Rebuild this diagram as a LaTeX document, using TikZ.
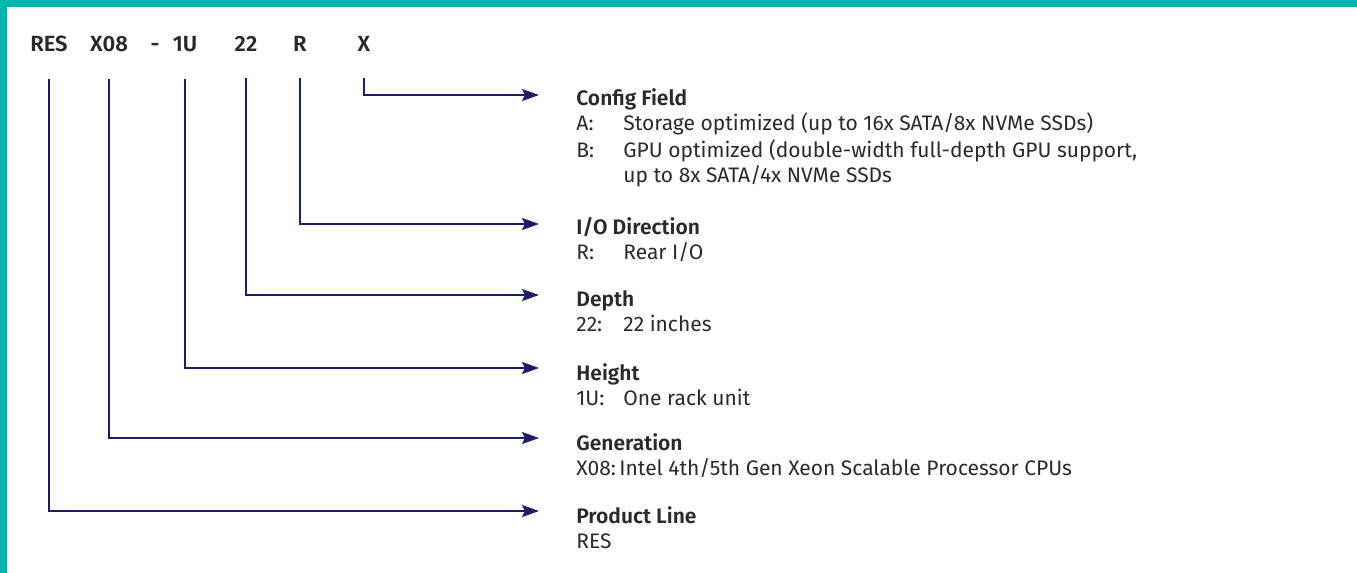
\documentclass[tikz,border=0pt]{standalone}
\usepackage{fontspec}
\setmainfont{Fira Sans}[BoldFont={Fira Sans SemiBold}]
\usetikzlibrary{arrows.meta,positioning}

\definecolor{frameteal}{HTML}{00B7AF}
\definecolor{linknavy}{HTML}{1B1C6B}
\definecolor{inkgray}{HTML}{2A2A2A}

\begin{document}
\begin{tikzpicture}[x=0.5pt, y=-0.5pt, text=inkgray,
  font=\fontsize{10.5}{12.5}\selectfont,
  code/.style = {anchor=base, inner xsep=0pt, inner ysep=13pt, font=\fontsize{11}{13}\selectfont\bfseries},
  head/.style = {anchor=base west, inner sep=0pt, font=\fontsize{10.5}{12}\selectfont\bfseries},
  body/.style = {anchor=base west, inner sep=0pt, align=left},
  link/.style = {draw=linknavy, line width=1pt, -{Stealth[length=8.5pt,width=6pt,inset=1.5pt]}}]
\useasboundingbox (0,0) rectangle (1357,573);

% frame
\fill[frameteal] (0,0) rectangle (1357,7);
\fill[frameteal] (0,0) rectangle (7,573);

% model code
\node[code] (res) at (49,52) {RES};
\node[code] (gen) at (109,52) {X08};
\node[code] (dash) at (155,52) {-};
\node[code] (height) at (185,52) {1U};
\node[code] (depth) at (246,52) {22};
\node[code] (io) at (300,52) {R};
\node[code] (config) at (364,52) {X};

% field descriptions
\node[head] (configHead) at (576,105) {Config Field};
\node[body] (configBody) [below=3.75pt of configHead.base west, anchor=north west]
  {\strut\makebox[23.5pt][l]{A:}Storage optimized (up to 16x SATA/8x NVMe SSDs)\\
   \makebox[23.5pt][l]{B:}GPU optimized (double-width full-depth GPU support,\\
   \hspace*{23.5pt}up to 8x SATA/4x NVMe SSDs};

\node[head] (ioHead) at (576,234) {I/O Direction};
\node[body] (ioBody) [below=12.5pt of ioHead.base west, anchor=base west]
  {\makebox[23.5pt][l]{R:}Rear I/O};

\node[head] (depthHead) at (576,306) {Depth};
\node[body] (depthBody) [below=12.5pt of depthHead.base west, anchor=base west]
  {\makebox[23.5pt][l]{22:}22 inches};

\node[head] (heightHead) at (576,380) {Height};
\node[body] (heightBody) [below=12.5pt of heightHead.base west, anchor=base west]
  {\makebox[23.5pt][l]{1U:}One rack unit};

\node[head] (genHead) at (576,450) {Generation};
\node[body] (genBody) [below=12.5pt of genHead.base west, anchor=base west]
  {X08:\,Intel 4th/5th Gen Xeon Scalable Processor CPUs};

\node[head] (resHead) at (576,523) {Product Line};
\node[body] (resBody) [below=12.5pt of resHead.base west, anchor=base west] {RES};

% connectors
\draw[link] (config.south) |- ([xshift=-18.5pt,yshift=5pt]configHead.base west);
\draw[link] (io.south) |- ([xshift=-18.5pt,yshift=5pt]ioHead.base west);
\draw[link] (depth.south) |- ([xshift=-18.5pt,yshift=5.5pt]depthHead.base west);
\draw[link] (height.south) |- ([xshift=-18.5pt,yshift=6pt]heightHead.base west);
\draw[link] (gen.south) |- ([xshift=-18.5pt,yshift=6pt]genHead.base west);
\draw[link] (res.south) |- ([xshift=-18.5pt,yshift=6pt]resHead.base west);
\end{tikzpicture}
\end{document}
